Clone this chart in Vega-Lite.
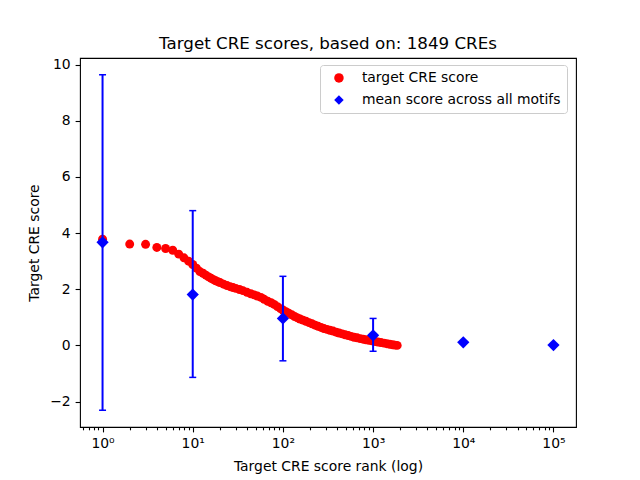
{
  "$schema": "https://vega.github.io/schema/vega-lite/v6.json",
  "width": 496,
  "height": 369,
  "autosize": {"type": "none"},
  "padding": {"left": 80, "top": 58, "right": 64, "bottom": 53},
  "background": "white",
  "title": {"text": "Target CRE scores, based on: 1849 CREs", "font": "DejaVu Sans", "fontSize": 16.7, "fontWeight": "normal", "color": "black", "offset": 5},
  "config": {
    "view": {"stroke": "black", "strokeWidth": 1.1},
    "axis": {"grid": false, "domain": false, "tickColor": "black", "labelColor": "black", "titleColor": "black", "labelFont": "DejaVu Sans", "titleFont": "DejaVu Sans", "labelFontSize": 13.9, "titleFontSize": 13.9, "titleFontWeight": "normal", "tickWidth": 1.1, "tickSize": 4.9, "labelPadding": 4.9}
  },
  "datasets": {
    "cre": [
      {"rank": 1, "score": 3.78}, {"rank": 2, "score": 3.61}, {"rank": 3, "score": 3.60}, {"rank": 4, "score": 3.49},
      {"rank": 5, "score": 3.45}, {"rank": 6, "score": 3.39}, {"rank": 7, "score": 3.25}, {"rank": 8, "score": 3.12},
      {"rank": 9, "score": 3.00}, {"rank": 10, "score": 2.88}, {"rank": 11, "score": 2.75}, {"rank": 12, "score": 2.63},
      {"rank": 13, "score": 2.57}, {"rank": 14, "score": 2.50}, {"rank": 15, "score": 2.44}, {"rank": 16, "score": 2.39},
      {"rank": 17, "score": 2.34}, {"rank": 18, "score": 2.30}, {"rank": 19, "score": 2.27}, {"rank": 20, "score": 2.24},
      {"rank": 22, "score": 2.18}, {"rank": 24, "score": 2.13}, {"rank": 26, "score": 2.09}, {"rank": 28, "score": 2.06},
      {"rank": 30, "score": 2.03}, {"rank": 33, "score": 1.99}, {"rank": 36, "score": 1.95}, {"rank": 40, "score": 1.89},
      {"rank": 44, "score": 1.84}, {"rank": 48, "score": 1.80}, {"rank": 52, "score": 1.76}, {"rank": 57, "score": 1.71},
      {"rank": 62, "score": 1.64}, {"rank": 68, "score": 1.57}, {"rank": 74, "score": 1.52}, {"rank": 80, "score": 1.46},
      {"rank": 87, "score": 1.38}, {"rank": 94, "score": 1.31}, {"rank": 100, "score": 1.26}, {"rank": 108, "score": 1.20},
      {"rank": 116, "score": 1.15}, {"rank": 125, "score": 1.09}, {"rank": 135, "score": 1.03}, {"rank": 145, "score": 0.98},
      {"rank": 155, "score": 0.94}, {"rank": 167, "score": 0.90}, {"rank": 180, "score": 0.86}, {"rank": 195, "score": 0.81},
      {"rank": 210, "score": 0.77}, {"rank": 228, "score": 0.72}, {"rank": 246, "score": 0.68}, {"rank": 265, "score": 0.64},
      {"rank": 285, "score": 0.60}, {"rank": 308, "score": 0.57}, {"rank": 332, "score": 0.54}, {"rank": 360, "score": 0.51},
      {"rank": 390, "score": 0.47}, {"rank": 420, "score": 0.44}, {"rank": 455, "score": 0.41}, {"rank": 490, "score": 0.38},
      {"rank": 530, "score": 0.35}, {"rank": 570, "score": 0.32}, {"rank": 615, "score": 0.29}, {"rank": 665, "score": 0.27},
      {"rank": 720, "score": 0.24}, {"rank": 775, "score": 0.22}, {"rank": 835, "score": 0.20}, {"rank": 900, "score": 0.18},
      {"rank": 970, "score": 0.16}, {"rank": 1050, "score": 0.14}, {"rank": 1130, "score": 0.12}, {"rank": 1220, "score": 0.10},
      {"rank": 1320, "score": 0.08}, {"rank": 1420, "score": 0.06}, {"rank": 1530, "score": 0.04}, {"rank": 1650, "score": 0.02},
      {"rank": 1750, "score": 0.01}, {"rank": 1849, "score": 0.0}
    ],
    "motif": [
      {"rank": 1, "mean": 3.67, "lo": -2.31, "hi": 9.64},
      {"rank": 10, "mean": 1.81, "lo": -1.14, "hi": 4.80},
      {"rank": 100, "mean": 0.96, "lo": -0.55, "hi": 2.46},
      {"rank": 1000, "mean": 0.36, "lo": -0.21, "hi": 0.96},
      {"rank": 10000, "mean": 0.11, "lo": 0.07, "hi": 0.15},
      {"rank": 100000, "mean": 0.01, "lo": 0.0, "hi": 0.02}
    ]
  },
  "layer": [
    {
      "data": {"name": "cre"},
      "transform": [{"calculate": "'target CRE score'", "as": "series"}],
      "mark": {"type": "point", "filled": true, "opacity": 1, "size": 80},
      "encoding": {
        "x": {"field": "rank", "type": "quantitative",
          "scale": {"type": "log", "domain": [0.5623, 177828], "nice": false},
          "axis": {"title": "Target CRE score rank (log)", "titlePadding": 9,
            "values": [0.6, 0.7, 0.8, 0.9, 1, 2, 3, 4, 5, 6, 7, 8, 9, 10, 20, 30, 40, 50, 60, 70, 80, 90, 100, 200, 300, 400, 500, 600, 700, 800, 900, 1000, 2000, 3000, 4000, 5000, 6000, 7000, 8000, 9000, 10000, 20000, 30000, 40000, 50000, 60000, 70000, 80000, 90000, 100000],
            "tickSize": {"condition": {"test": "indexof([1,10,100,1000,10000,100000], datum.value) >= 0", "value": 4.9}, "value": 2.8},
            "labelExpr": "datum.value==1?'10⁰':datum.value==10?'10¹':datum.value==100?'10²':datum.value==1000?'10³':datum.value==10000?'10⁴':datum.value==100000?'10⁵':''"}},
        "y": {"field": "score", "type": "quantitative",
          "scale": {"domain": [-2.9075, 10.2375], "nice": false, "zero": false},
          "axis": {"title": "Target CRE score", "values": [-2, 0, 2, 4, 6, 8, 10], "titlePadding": 8}},
        "color": {"field": "series", "type": "nominal",
          "scale": {"domain": ["target CRE score", "mean score across all motifs"], "range": ["#ff0000", "#0000ff"]},
          "legend": {"title": null, "orient": "none", "legendX": 240, "legendY": 7, "labelFont": "DejaVu Sans", "labelFontSize": 13.9, "labelColor": "black", "labelLimit": 0, "strokeColor": "#cccccc", "fillColor": "white", "cornerRadius": 3, "padding": 6, "symbolSize": 90, "rowPadding": 7, "labelOffset": 16, "symbolOffset": 6}},
        "shape": {"field": "series", "type": "nominal",
          "scale": {"domain": ["target CRE score", "mean score across all motifs"], "range": ["circle", "diamond"]},
          "legend": {"title": null, "orient": "none", "legendX": 240, "legendY": 7, "labelFont": "DejaVu Sans", "labelFontSize": 13.9, "labelColor": "black", "labelLimit": 0, "strokeColor": "#cccccc", "fillColor": "white", "cornerRadius": 3, "padding": 6, "symbolSize": 90, "rowPadding": 7, "labelOffset": 16, "symbolOffset": 6}}
      }
    },
    {
      "data": {"name": "motif"},
      "mark": {"type": "rule", "color": "#0000ff", "strokeWidth": 2},
      "encoding": {
        "x": {"field": "rank", "type": "quantitative"},
        "y": {"field": "lo", "type": "quantitative"},
        "y2": {"field": "hi"}
      }
    },
    {
      "data": {"name": "motif"},
      "mark": {"type": "tick", "orient": "horizontal", "color": "#0000ff", "size": 7, "thickness": 1.5, "opacity": 1},
      "encoding": {
        "x": {"field": "rank", "type": "quantitative"},
        "y": {"field": "lo", "type": "quantitative"}
      }
    },
    {
      "data": {"name": "motif"},
      "mark": {"type": "tick", "orient": "horizontal", "color": "#0000ff", "size": 7, "thickness": 1.5, "opacity": 1},
      "encoding": {
        "x": {"field": "rank", "type": "quantitative"},
        "y": {"field": "hi", "type": "quantitative"}
      }
    },
    {
      "data": {"name": "motif"},
      "transform": [{"calculate": "'mean score across all motifs'", "as": "series"}],
      "mark": {"type": "point", "filled": true, "opacity": 1, "size": 150},
      "encoding": {
        "x": {"field": "rank", "type": "quantitative"},
        "y": {"field": "mean", "type": "quantitative"},
        "color": {"field": "series", "type": "nominal"},
        "shape": {"field": "series", "type": "nominal"}
      }
    }
  ]
}
